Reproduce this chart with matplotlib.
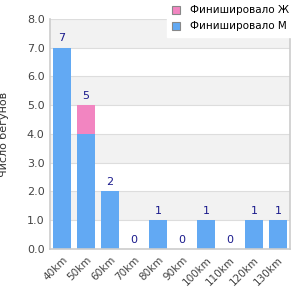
import matplotlib
matplotlib.use("Agg")
import matplotlib.pyplot as plt
import numpy as np

categories = ["40km", "50km", "60km", "70km", "80km", "90km", "100km", "110km", "120km", "130km"]
male = [7, 4, 2, 0, 1, 0, 1, 0, 1, 1]
female = [0, 1, 0, 0, 0, 0, 0, 0, 0, 0]
yticks = [0.0, 1.0, 2.0, 3.0, 4.0, 5.0, 6.0, 7.0, 8.0]

blue = "#62a9f3"
pink = "#f285c1"

fig = plt.figure(figsize=(3, 3), dpi=100)
ax = fig.add_axes([0.167, 0.17, 0.8, 0.767])
x = np.arange(len(categories))
totals = [m + f for m, f in zip(male, female)]

for i in range(len(yticks) - 1):
    if i % 2 == 1:
        ax.axhspan(yticks[i], yticks[i + 1], color="#f2f2f2", zorder=0, lw=0)
for y in yticks[1:]:
    ax.axhline(y, color="#dddddd", lw=0.8, zorder=0.5)

bm = ax.bar(x, male, width=0.75, color=blue, zorder=2, label="Финишировало М")
bf = ax.bar(x, female, width=0.75, bottom=male, color=pink, zorder=2, label="Финишировало Ж")
for xi, t in zip(x, totals):
    ax.text(xi, t + 0.15, str(t), ha="center", va="bottom", fontsize=8, color="#1a1a8c")

ax.set_xlim(-0.5, len(categories) - 0.5)
ax.set_ylim(0, 8)
ax.set_yticks(yticks)
ax.set_yticklabels([f"{v:.1f}" for v in yticks], fontsize=8, color="#444444")
ax.set_xticks(x)
ax.set_xticklabels(categories, rotation=45, ha="right", rotation_mode="anchor", fontsize=7.5, color="#444444")
ax.tick_params(length=0, pad=4)
for s in ax.spines.values():
    s.set_color("#cccccc")
    s.set_linewidth(1.2)
ax.spines["top"].set_visible(False)
ax.set_ylabel("Число бегунов", fontsize=8, color="#333333", labelpad=13)

leg = fig.legend(handles=[bf, bm], loc="upper right", bbox_to_anchor=(1.0, 1.0),
                 fontsize=7.5, frameon=True, fancybox=False, borderaxespad=0.0,
                 handlelength=0.8, handleheight=0.8, handletextpad=0.9, labelspacing=0.6,
                 borderpad=0.5)
leg.get_frame().set_edgecolor("white")
leg.get_frame().set_alpha(1)
leg.get_frame().set_boxstyle("square", pad=0)
leg._legend_box.set_offset = leg._legend_box.set_offset
for h in leg.legend_handles:
    h.set_edgecolor("#888888")
    h.set_linewidth(0.8)
leg.set_bbox_to_anchor((0.98, 1.0))

fig.savefig("out.png", dpi=100)
